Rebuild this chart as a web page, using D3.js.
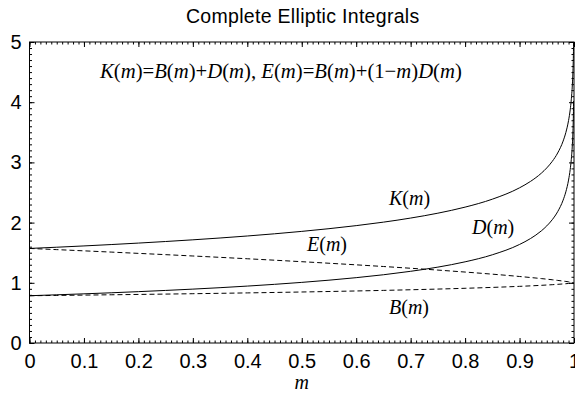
<!DOCTYPE html>
<html>
<head>
<meta charset="utf-8">
<script src="https://cdn.jsdelivr.net/npm/d3@7"></script>
<style>
  body { margin: 0; background: #fff; }
  svg { display: block; }
  .tick text { font-family: "Liberation Sans", Arial, sans-serif; font-size: 20px; fill: #000; }
  .serif { font-family: "Liberation Serif", "Times New Roman", serif; }
</style>
</head>
<body>
<script>
// parameter m and sampled values of the complete elliptic integrals
var mValues = [0, 0.05, 0.1, 0.15, 0.2, 0.25, 0.3, 0.35, 0.4, 0.45, 0.5, 0.55, 0.6, 0.65, 0.7, 0.75, 0.8, 0.85,
  0.9, 0.92, 0.94, 0.95, 0.96, 0.97, 0.98, 0.985, 0.99, 0.993, 0.995, 0.997, 0.998, 0.999, 0.9993];
var kValues = [1.5708, 1.5910, 1.6124, 1.6353, 1.6596, 1.6858, 1.7139, 1.7444, 1.7775, 1.8139, 1.8541, 1.8989, 1.9496, 2.0076, 2.0754, 2.1565, 2.2572, 2.3890,
  2.5781, 2.6835, 2.8207, 2.9083, 3.0161, 3.1559, 3.3541, 3.4956, 3.6956, 3.8722, 4.0393, 4.2934, 4.4954, 4.8411, 5.0192];
var eValues = [1.5708, 1.5510, 1.5308, 1.5101, 1.4890, 1.4675, 1.4454, 1.4227, 1.3994, 1.3754, 1.3506, 1.3250, 1.2984, 1.2707, 1.2417, 1.2111, 1.1785, 1.1434,
  1.1048, 1.0879, 1.0699, 1.0605, 1.0505, 1.0399, 1.0286, 1.0225, 1.0160, 1.0118, 1.0089, 1.0057, 1.0040, 1.0022, 1.0016];
var bValues = [0.7854, 0.7903, 0.7956, 0.8012, 0.8067, 0.8126, 0.8188, 0.8253, 0.8322, 0.8395, 0.8472, 0.8555, 0.8643, 0.8739, 0.8844, 0.8959, 0.9088, 0.9236,
  0.9411, 0.9491, 0.9582, 0.9632, 0.9686, 0.9745, 0.9811, 0.9848, 0.9889, 0.9912, 0.9936, 0.9958, 0.9969, 0.9983, 0.9988];
var dValues = [0.7854, 0.8007, 0.8168, 0.8341, 0.8530, 0.8732, 0.8951, 0.9190, 0.9453, 0.9744, 1.0069, 1.0435, 1.0852, 1.1337, 1.1910, 1.2606, 1.3484, 1.4654,
  1.6370, 1.7344, 1.8625, 1.9451, 2.0475, 2.1814, 2.3730, 2.5108, 2.7067, 2.8810, 3.0457, 3.2976, 3.4985, 3.8428, 4.0204];

var xTicks = [0, 0.1, 0.2, 0.3, 0.4, 0.5, 0.6, 0.7, 0.8, 0.9, 1];
var yTicks = [0, 1, 2, 3, 4, 5];

(function(){
var width = 575, height = 397;
var mLeft = 29.5, mRight = 574, mTop = 42, mBottom = 343;

var x = d3.scaleLinear().domain([0, 1]).range([mLeft, mRight]);
var y = d3.scaleLinear().domain([0, 5]).range([mBottom, mTop]);

var svg = d3.select("body").append("svg")
  .attr("width", width)
  .attr("height", height);

svg.append("defs").append("clipPath").attr("id", "plotclip")
  .append("rect")
  .attr("x", mLeft).attr("y", mTop)
  .attr("width", mRight - mLeft).attr("height", mBottom - mTop);

// title
svg.append("text")
  .attr("x", (mLeft + mRight) / 2 + 1)
  .attr("y", 23)
  .attr("text-anchor", "middle")
  .style("font-family", "Liberation Sans, Arial, sans-serif")
  .style("font-size", "19.5px")
  .style("letter-spacing", "0.3px")
  .text("Complete Elliptic Integrals");

// axes, ticks pointing inward on all four sides
var xMinor = d3.range(0, 101).map(function(i){ return i / 100; });
var yMinor = d3.range(0, 51).map(function(i){ return i / 10; });

function fmt(d){ return d === 0 ? "0" : (d === 1 ? "1" : d3.format(".1f")(d)); }

svg.append("g").attr("transform", "translate(0," + mBottom + ")")
  .call(d3.axisBottom(x).tickValues(xTicks).tickSize(-5).tickPadding(11).tickFormat(fmt));
svg.append("g").attr("transform", "translate(0," + mBottom + ")")
  .call(d3.axisBottom(x).tickValues(xMinor).tickSize(-2.5).tickFormat(""));
svg.append("g").attr("transform", "translate(0," + mTop + ")")
  .call(d3.axisTop(x).tickValues(xTicks).tickSize(-5).tickFormat(""));
svg.append("g").attr("transform", "translate(0," + mTop + ")")
  .call(d3.axisTop(x).tickValues(xMinor).tickSize(-2.5).tickFormat(""));

svg.append("g").attr("transform", "translate(" + mLeft + ",0)")
  .call(d3.axisLeft(y).tickValues(yTicks).tickSize(-5).tickPadding(8).tickFormat(d3.format("d")));
svg.append("g").attr("transform", "translate(" + mLeft + ",0)")
  .call(d3.axisLeft(y).tickValues(yMinor).tickSize(-2.5).tickFormat(""));
svg.append("g").attr("transform", "translate(" + mRight + ",0)")
  .call(d3.axisRight(y).tickValues(yTicks).tickSize(-5).tickFormat(""));
svg.append("g").attr("transform", "translate(" + mRight + ",0)")
  .call(d3.axisRight(y).tickValues(yMinor).tickSize(-2.5).tickFormat(""));

svg.selectAll(".domain").remove();
svg.selectAll(".tick line").attr("stroke", "#000").attr("stroke-width", 1);

svg.append("rect")
  .attr("x", mLeft).attr("y", mTop)
  .attr("width", mRight - mLeft).attr("height", mBottom - mTop)
  .attr("fill", "none").attr("stroke", "#000").attr("stroke-width", 1);

// curves
var series = [
  { vals: kValues, dash: null },
  { vals: dValues, dash: null },
  { vals: eValues, dash: "5,3" },
  { vals: bValues, dash: "5,3" }
];

var line = d3.line()
  .x(function(d){ return x(d[0]); })
  .y(function(d){ return y(d[1]); })
  .curve(d3.curveMonotoneX);

var plot = svg.append("g").attr("clip-path", "url(#plotclip)");
series.forEach(function(s){
  plot.append("path")
    .datum(mValues.map(function(m, i){ return [m, s.vals[i]]; }))
    .attr("fill", "none")
    .attr("stroke", "#000")
    .attr("stroke-width", 1)
    .attr("stroke-dasharray", s.dash)
    .attr("d", line);
});

// serif labels with italic letters
function mathText(xp, yp, size, parts){
  var t = svg.append("text").attr("class", "serif")
    .attr("x", xp).attr("y", yp)
    .style("font-size", size + "px");
  parts.forEach(function(p){
    t.append("tspan")
      .style("font-style", p[1] ? "italic" : "normal")
      .text(p[0]);
  });
  return t;
}
function fn(name){ return [[name, 1], ["(", 0], ["m", 1], [")", 0]]; }

mathText(100, 78, 20.7, [].concat(fn("K"), [["=", 0]], fn("B"), [["+", 0]], fn("D"), [[", ", 0]],
  fn("E"), [["=", 0]], fn("B"), [["+(1\u2212", 0], ["m", 1], [")", 0]], fn("D")));

mathText(389, 205, 20, fn("K"));
mathText(472, 234, 20, fn("D"));
mathText(307, 251, 20, fn("E"));
mathText(389, 314, 20, fn("B"));

// axis title
svg.append("text").attr("class", "serif")
  .attr("x", (mLeft + mRight) / 2)
  .attr("y", 389)
  .attr("text-anchor", "middle")
  .style("font-size", "20px")
  .style("font-style", "italic")
  .text("m");
})();
</script>
</body>
</html>
